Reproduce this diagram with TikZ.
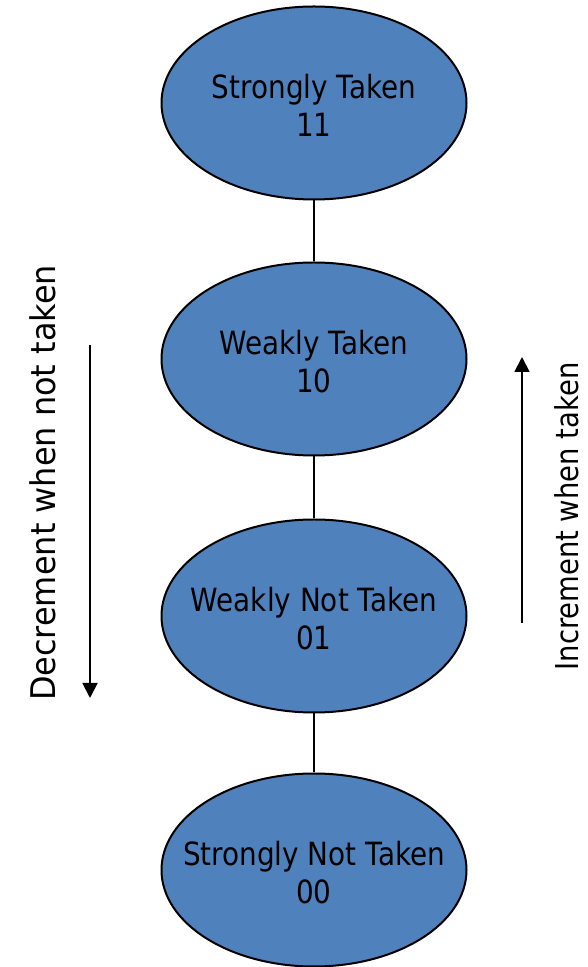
\documentclass[tikz,border=0pt]{standalone}
\usepackage{fontspec}
\usepackage{graphicx}
\setmainfont{DejaVu Sans}[FakeStretch=0.87]
\usetikzlibrary{shapes.geometric,arrows.meta}
\definecolor{stateblue}{HTML}{4F81BD}
\newcommand{\zw}[1]{\makebox[0pt][c]{#1}}
\newcommand{\topline}[1]{\zw{\rule{0pt}{30pt}#1}}
\tikzset{
  state/.style={ellipse, draw=black, line width=2pt, fill=stateblue,
    minimum width=305pt, minimum height=193pt, inner sep=0pt, align=center,
    font=\fontsize{32}{38}\selectfont},
  link/.style={line width=1.8pt},
  dirarrow/.style={line width=1.8pt, -{Triangle[width=15pt,length=15pt]}},
  sidelabel/.style={rotate=90, anchor=base, inner sep=0pt}
}
\begin{document}
\begin{tikzpicture}[x=1pt,y=1pt]
\useasboundingbox (0,0) rectangle (588,967);
\node[state] (st) at (314,864) {\topline{Strongly Taken}\\\zw{11}};
\node[state] (wt) at (314,608) {\topline{Weakly Taken}\\\zw{10}};
\node[state] (wn) at (314,351) {\topline{Weakly Not Taken}\\\zw{01}};
\node[state] (sn) at (314,97) {\topline{Strongly Not Taken}\\\zw{00}};
\draw[link] (st.south) -- (wt.north);
\draw[link] (wt.south) -- (wn.north);
\draw[link] (wn.south) -- (sn.north);
\coordinate (decA) at (90,622);
\coordinate (decB) at (90,269);
\coordinate (incA) at (522,344);
\coordinate (incB) at (522,610);
\draw[dirarrow] (decA) -- (decB);
\draw[dirarrow] (incA) -- (incB);
\node[sidelabel, font=\fontsize{34}{40}\selectfont] (declabel) at (55,484) {\scalebox{1.08}[1]{Decrement when not taken}};
\node[sidelabel, font=\fontsize{31.5}{38}\selectfont] (inclabel) at (578,450.5) {Increment when taken};
\end{tikzpicture}
\end{document}
